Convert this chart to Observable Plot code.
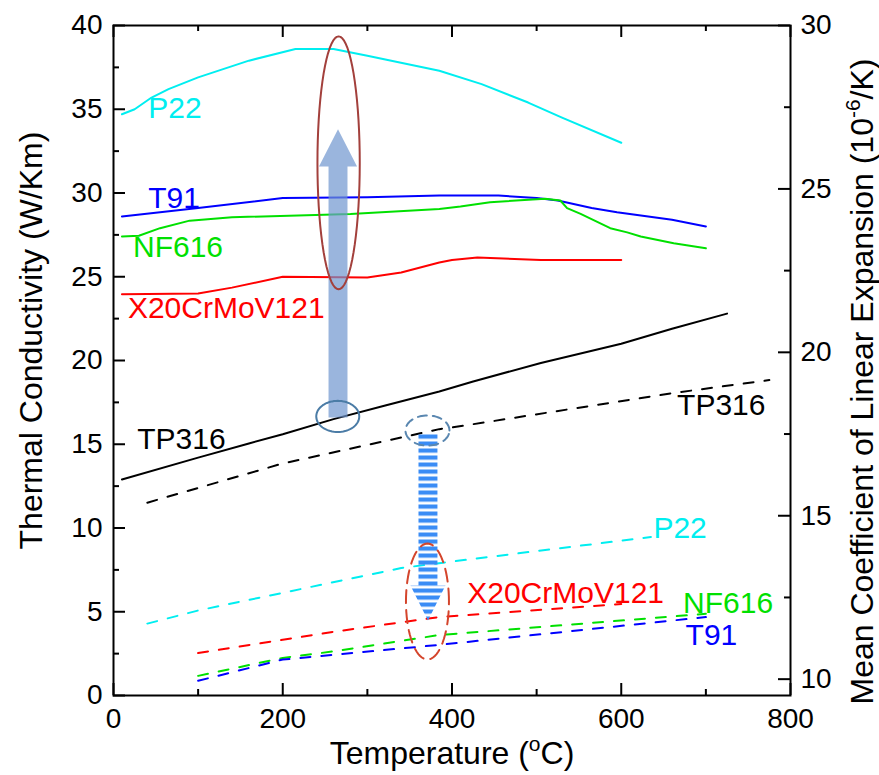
<!DOCTYPE html>
<html><head><meta charset="utf-8">
<script src="https://cdn.jsdelivr.net/npm/d3@7"></script>
<script src="https://cdn.jsdelivr.net/npm/@observablehq/plot@0.6"></script>
<style>body{margin:0;background:#fff} #chart{width:879px;height:775px}</style>
</head><body><div id="chart"></div>
<script>
// ---- Thermal conductivity (W/Km), left axis: [temperature °C, value]
const tcP22 = [[10,34.7],[25,35.0],[45,35.7],[65,36.2],[100,36.9],[160,37.9],[215,38.6],[260,38.6],[300,38.2],[385,37.3],[435,36.5],[490,35.4],[530,34.5],[600,33.0]];
const tcT91 = [[10,28.6],[100,29.1],[200,29.7],[300,29.75],[385,29.85],[455,29.85],[500,29.7],[525,29.55],[565,29.1],[595,28.85],[660,28.4],[700,28.0]];
const tcNF616 = [[10,27.4],[30,27.45],[55,27.9],[90,28.35],[140,28.55],[280,28.75],[385,29.05],[410,29.2],[445,29.45],[510,29.65],[528,29.55],[536,29.1],[552,28.75],[587,27.9],[607,27.65],[623,27.4],[662,27.0],[700,26.7]];
const tcX20 = [[10,23.95],[100,24.0],[140,24.35],[200,25.0],[300,24.95],[340,25.25],[385,25.85],[400,26.0],[430,26.15],[505,26.0],[600,26.0]];
const tcTP316 = [[10,12.9],[100,14.2],[160,15.05],[200,15.6],[260,16.5],[320,17.3],[385,18.15],[425,18.75],[505,19.85],[600,21.0],[660,21.9],[725,22.8]];
// ---- Mean coefficient of linear expansion (1e-6/K), right axis
const cteTP316 = [[40,15.4],[200,16.6],[385,17.65],[400,17.7],[660,18.75],[775,19.15]];
const cteP22 = [[40,11.7],[100,12.1],[340,13.4],[400,13.6],[635,14.35]];
const cteX20 = [[100,10.8],[260,11.45],[385,11.9],[600,12.3]];
const cteNF616 = [[100,10.1],[200,10.65],[260,10.85],[385,11.35],[700,12.0]];
const cteT91 = [[100,9.95],[200,10.6],[385,11.05],[700,11.9]];
// ---- ticks
const xTicksMajor = [0,200,400,600,800];
const xTicksMinor = [100,300,500,700];
const leftTicksMajor = [0,5,10,15,20,25,30,35,40];
const leftTicksMinor = [2.5,7.5,12.5,17.5,22.5,27.5,32.5,37.5];
const rightTicksMajor = [10,15,20,25,30];
const rightTicksMinor = [12.5,17.5,22.5,27.5];

const W = 879, H = 775;
const M = {top: 25, right: 89, bottom: 80, left: 113};
const xDomain = [0, 800], yDomain = [0, 40], rightDomain = [9.5, 30];
const toLeft = c => (c - rightDomain[0]) / (rightDomain[1] - rightDomain[0]) * (yDomain[1] - yDomain[0]);
const fromLeft = k => rightDomain[0] + k / (yDomain[1] - yDomain[0]) * (rightDomain[1] - rightDomain[0]);
const pxX = (xDomain[1] - xDomain[0]) / (W - M.left - M.right);
const pxY = (yDomain[1] - yDomain[0]) / (H - M.top - M.bottom);

const C = {cyan: "#00eef0", blue: "#0000ff", green: "#00e000", red: "#ff0000", black: "#000000"};
const solid = [
  {d: tcP22, c: C.cyan}, {d: tcT91, c: C.blue}, {d: tcNF616, c: C.green},
  {d: tcX20, c: C.red}, {d: tcTP316, c: C.black}
];
const dashed = [
  {d: cteTP316, c: C.black}, {d: cteP22, c: C.cyan}, {d: cteX20, c: C.red},
  {d: cteNF616, c: C.green}, {d: cteT91, c: C.blue}
];
// series labels (text placement, in data units)
const labels = [
  {t: "P22", x: 41, y: 35.05, c: C.cyan},
  {t: "T91", x: 41, y: 29.7, c: C.blue},
  {t: "NF616", x: 23, y: 26.75, c: C.green},
  {t: "X20CrMoV121", x: 17, y: 23.1, c: C.red},
  {t: "TP316", x: 28, y: 15.3, c: C.black},
  {t: "TP316", x: 666, y: 17.3, c: C.black},
  {t: "P22", x: 638, y: 10.0, c: C.cyan},
  {t: "X20CrMoV121", x: 418, y: 6.1, c: C.red},
  {t: "NF616", x: 673, y: 5.5, c: C.green},
  {t: "T91", x: 676, y: 3.6, c: C.blue}
];

// annotation shapes (data units)
const ellipses = [
  {cx: 266, cy: 31.8, rx: 25, ry: 7.55, c: "#a3403c", dash: null},
  {cx: 265, cy: 16.66, rx: 25.4, ry: 0.93, c: "#4b7ca6", dash: null},
  {cx: 371, cy: 15.82, rx: 26, ry: 0.9, c: "#5a87b0", dash: "9,6"},
  {cx: 371, cy: 5.61, rx: 25.4, ry: 3.46, c: "#d4452c", dash: "13,7"}
];
const ellipsePts = e => d3.range(0, 73).map(i => {
  const a = i / 72 * 2 * Math.PI;
  return [e.cx + e.rx * Math.cos(a), e.cy + e.ry * Math.sin(a)];
});
const arrowPts = a => [
  [a.x - a.hs, a.base], [a.x - a.hs, a.head], [a.x - a.hh, a.head], [a.x, a.tip],
  [a.x + a.hh, a.head], [a.x + a.hs, a.head], [a.x + a.hs, a.base], [a.x - a.hs, a.base]
];
const upArrow = {x: 265.3, hs: 11.2, hh: 22.5, base: 16.6, head: 31.58, tip: 33.8};
const downArrow = {x: 371.6, hs: 11.2, hh: 20.7, base: 15.64, head: 6.57, tip: 4.48};

const FONT = "'Liberation Sans', Arial, sans-serif";

const marks = [
  ...solid.map(s => Plot.line(s.d, {x: d => d[0], y: d => d[1], stroke: s.c, strokeWidth: 2})),
  ...dashed.map(s => Plot.line(s.d, {x: d => d[0], y: d => toLeft(d[1]), stroke: s.c, strokeWidth: 2, strokeDasharray: "10,11"})),
  Plot.line(arrowPts(upArrow), {x: d => d[0], y: d => d[1], fill: "#6f95cf", fillOpacity: 0.7, stroke: "none"}),
  Plot.line(arrowPts(downArrow), {x: d => d[0], y: d => d[1], fill: "url(#stripes)", stroke: "none"}),
  ...ellipses.map(e => Plot.line(ellipsePts(e), {x: d => d[0], y: d => d[1], stroke: e.c, strokeWidth: 2, strokeDasharray: e.dash || undefined})),
  Plot.text(labels, {x: "x", y: "y", text: "t", fill: "c", textAnchor: "start", fontSize: 30}),
  // tick marks (inward)
  Plot.ruleY(leftTicksMajor, {x1: 0, x2: 12 * pxX, stroke: "black", strokeWidth: 2}),
  Plot.ruleY(leftTicksMinor, {x1: 0, x2: 6 * pxX, stroke: "black", strokeWidth: 2}),
  Plot.ruleY(rightTicksMajor, {y: d => toLeft(d), x1: 800, x2: 800 - 12 * pxX, stroke: "black", strokeWidth: 2}),
  Plot.ruleY(rightTicksMinor, {y: d => toLeft(d), x1: 800, x2: 800 - 6 * pxX, stroke: "black", strokeWidth: 2}),
  Plot.ruleX(xTicksMajor, {y1: 0, y2: 12 * pxY, stroke: "black", strokeWidth: 2}),
  Plot.ruleX(xTicksMinor, {y1: 0, y2: 6 * pxY, stroke: "black", strokeWidth: 2}),
  Plot.ruleX(xTicksMajor, {y1: 40, y2: 40 - 12 * pxY, stroke: "black", strokeWidth: 2}),
  Plot.ruleX(xTicksMinor, {y1: 40, y2: 40 - 6 * pxY, stroke: "black", strokeWidth: 2}),
  Plot.frame({stroke: "black", strokeWidth: 2}),
  // axes labels
  Plot.axisX({ticks: xTicksMajor, anchor: "bottom", tickSize: 0, tickPadding: 13, fontSize: 28, label: null}),
  Plot.axisY({ticks: leftTicksMajor, anchor: "left", tickSize: 0, tickPadding: 11, fontSize: 28, label: null}),
  Plot.axisY({ticks: rightTicksMajor.map(toLeft), tickFormat: d => String(Math.round(fromLeft(d))), anchor: "right", tickSize: 0, tickPadding: 10, fontSize: 28, label: null}),
  // titles
  Plot.text(["Temperature (oC)"], {frameAnchor: "bottom", textAnchor: "middle", lineAnchor: "middle", dy: 58, fontSize: 32, fill: "black"}),
  Plot.text(["Thermal Conductivity (W/Km)"], {frameAnchor: "left", textAnchor: "middle", lineAnchor: "middle", dx: -82, dy: -20, rotate: -90, fontSize: 32, fill: "black"}),
  Plot.text(["Mean Coefficient of Linear Expansion (10-6/K)"], {frameAnchor: "right", textAnchor: "middle", lineAnchor: "middle", dx: 72, dy: 21, rotate: -90, fontSize: 32, fill: "black"})
];

const chart = Plot.plot({
  width: W, height: H,
  marginTop: M.top, marginRight: M.right, marginBottom: M.bottom, marginLeft: M.left,
  x: {domain: xDomain, axis: null},
  y: {domain: yDomain, axis: null},
  color: {type: "identity"},
  style: {fontFamily: FONT, color: "black", background: "white", overflow: "visible"},
  marks
});

// stripe pattern for the dashed-transfer arrow
const svg = d3.select(chart);
const defs = svg.insert("defs", ":first-child");
const pat = defs.append("pattern").attr("id", "stripes").attr("patternUnits", "userSpaceOnUse")
  .attr("width", 40).attr("height", 7);
pat.append("rect").attr("width", 40).attr("height", 4.2).attr("fill", "#3a8cf5");

// superscripts in titles
function sup(full, parts) {
  svg.selectAll("text").filter(function() { return this.textContent === full; }).each(function() {
    const t = d3.select(this);
    t.text("");
    parts.forEach(p => {
      const ts = t.append("tspan").text(p[0]);
      if (p[1] === "up") ts.attr("dy", -13).attr("font-size", 21);
      if (p[1] === "down") ts.attr("dy", 13);
    });
  });
}
sup("Temperature (oC)", [["Temperature ("], ["o", "up"], ["C)", "down"]]);
sup("Mean Coefficient of Linear Expansion (10-6/K)", [["Mean Coefficient of Linear Expansion (10"], ["-6", "up"], ["/K)", "down"]]);

document.getElementById("chart").appendChild(chart);
</script></body></html>
